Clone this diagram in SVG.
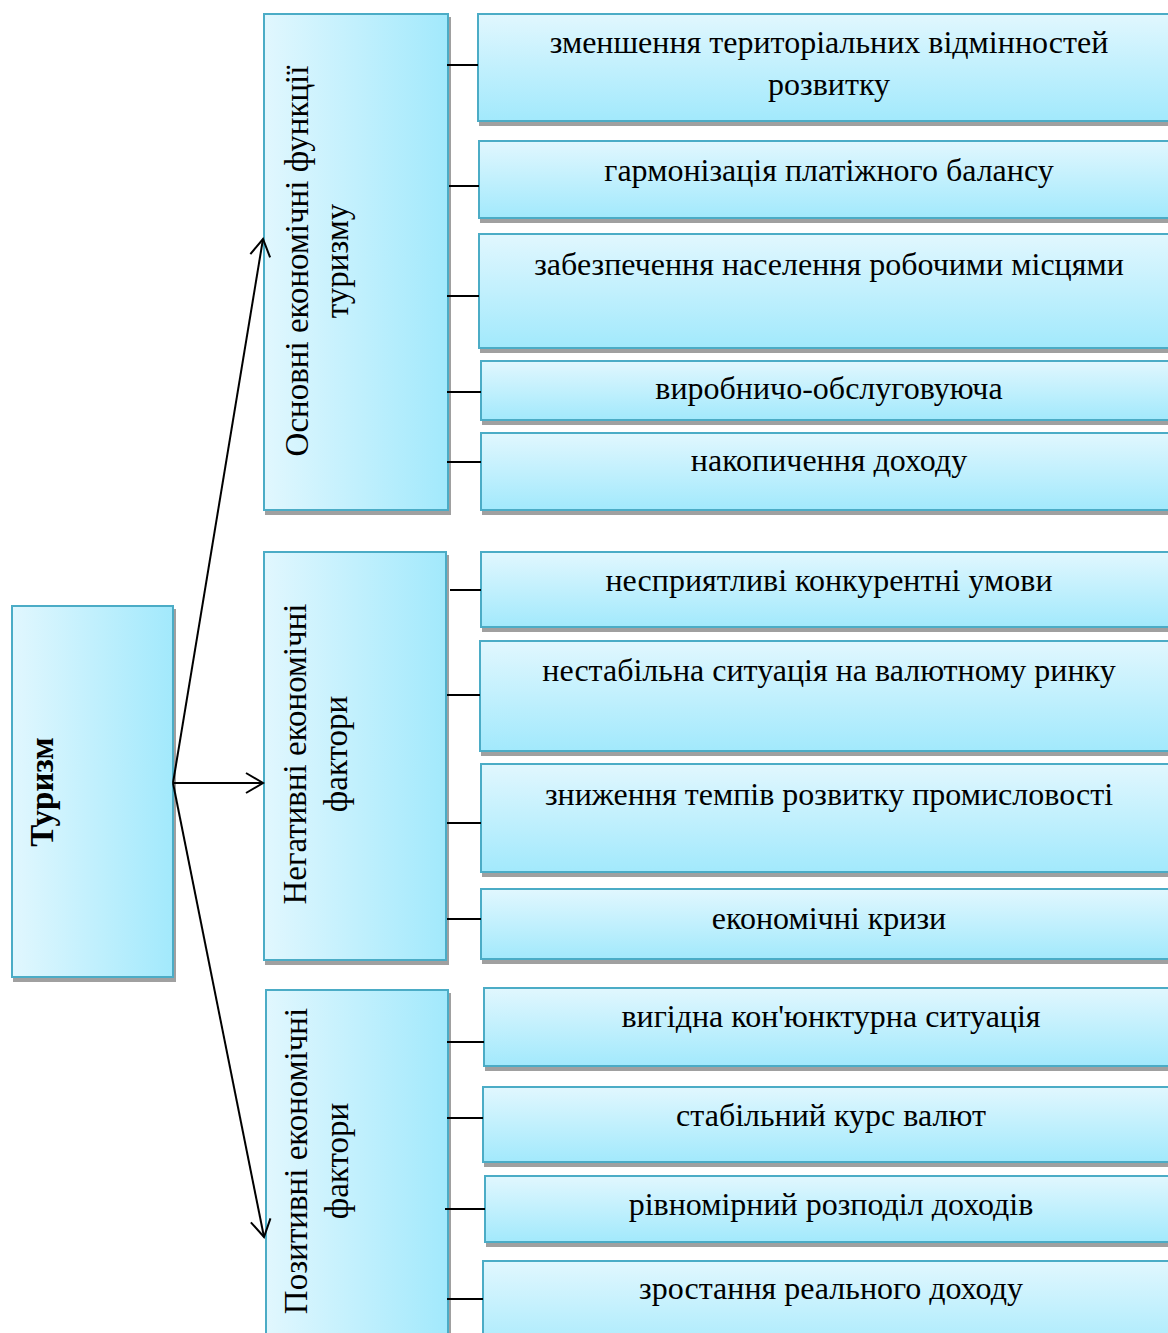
<svg xmlns="http://www.w3.org/2000/svg" width="1168" height="1333" viewBox="0 0 1168 1333">
  <defs>
    <linearGradient id="fillV" x1="0" y1="0" x2="0" y2="1">
      <stop offset="0" stop-color="#e1f7fe"/>
      <stop offset="1" stop-color="#a2e9fc"/>
    </linearGradient>
    <linearGradient id="fillH" x1="0" y1="0" x2="1" y2="0">
      <stop offset="0" stop-color="#e1f7fe"/>
      <stop offset="1" stop-color="#a2e9fc"/>
    </linearGradient>
    <filter id="shadow" x="-5%" y="-5%" width="115%" height="115%">
      <feFlood flood-color="#a0a0a0" result="c"/>
      <feComposite in="c" in2="SourceAlpha" operator="in" result="s"/>
      <feOffset in="s" dx="2" dy="4" result="o"/>
      <feMerge>
        <feMergeNode in="o"/>
        <feMergeNode in="SourceGraphic"/>
      </feMerge>
    </filter>
    <marker id="open" markerUnits="userSpaceOnUse" viewBox="-20 -12 22 24" refX="0" refY="0" markerWidth="22" markerHeight="24" orient="auto">
      <path d="M-17,-10 L0,0 L-17,10" fill="none" stroke="#000" stroke-width="2"/>
    </marker>
    <style>
      .box { stroke: #4bacc6; stroke-width: 2; filter: url(#shadow); }
      .item { fill: url(#fillV); }
      .group { fill: url(#fillH); }
      text { font-family: "Liberation Serif", "Times New Roman", serif; font-size: 32px; fill: #000; text-anchor: middle; }
      .vert { font-size: 33px; }
      .bold { font-weight: bold; }
      .link { stroke: #000; stroke-width: 2; fill: none; }
    </style>
  </defs>
  <rect width="1168" height="1333" fill="#fff"/>

  <!-- root node -->
  <g id="tourism">
    <rect class="box group" x="12" y="606" width="161" height="371"/>
    <text class="bold vert" transform="translate(53,792) rotate(-90)">Туризм</text>
  </g>

  <!-- group nodes -->
  <g id="main-functions">
    <rect class="box group" x="264" y="14" width="184" height="496"/>
    <text class="vert" transform="translate(308,261) rotate(-90)">Основні економічні функції</text>
    <text class="vert" transform="translate(348,261) rotate(-90)">туризму</text>
  </g>
  <g id="negative-factors">
    <rect class="box group" x="264" y="552" width="182" height="408"/>
    <text class="vert" transform="translate(306,754) rotate(-90)">Негативні економічні</text>
    <text class="vert" transform="translate(347,754) rotate(-90)">фактори</text>
  </g>
  <g id="positive-factors">
    <rect class="box group" x="266" y="990" width="182" height="360"/>
    <text class="vert" transform="translate(307,1161) rotate(-90)">Позитивні економічні</text>
    <text class="vert" transform="translate(348,1161) rotate(-90)">фактори</text>
  </g>

  <!-- item nodes -->
  <g id="item-1">
    <rect class="box item" x="478" y="14" width="720" height="107"/>
    <text x="829" y="53">зменшення територіальних відмінностей</text>
    <text x="829" y="95">розвитку</text>
  </g>
  <g id="item-2">
    <rect class="box item" x="479" y="141" width="720" height="77"/>
    <text x="829" y="181">гармонізація платіжного балансу</text>
  </g>
  <g id="item-3">
    <rect class="box item" x="479" y="234" width="720" height="114"/>
    <text x="829" y="275">забезпечення населення робочими місцями</text>
  </g>
  <g id="item-4">
    <rect class="box item" x="481" y="361" width="720" height="59"/>
    <text x="829" y="399">виробничо-обслуговуюча</text>
  </g>
  <g id="item-5">
    <rect class="box item" x="481" y="433" width="720" height="77"/>
    <text x="829" y="471">накопичення доходу</text>
  </g>
  <g id="item-6">
    <rect class="box item" x="481" y="552" width="720" height="75"/>
    <text x="829" y="591">несприятливі конкурентні умови</text>
  </g>
  <g id="item-7">
    <rect class="box item" x="480" y="641" width="720" height="110"/>
    <text x="829" y="681">нестабільна ситуація на валютному ринку</text>
  </g>
  <g id="item-8">
    <rect class="box item" x="481" y="764" width="720" height="108"/>
    <text x="829" y="805">зниження темпів розвитку промисловості</text>
  </g>
  <g id="item-9">
    <rect class="box item" x="481" y="889" width="720" height="70"/>
    <text x="829" y="929">економічні кризи</text>
  </g>
  <g id="item-10">
    <rect class="box item" x="484" y="988" width="720" height="78"/>
    <text x="831" y="1027">вигідна кон'юнктурна ситуація</text>
  </g>
  <g id="item-11">
    <rect class="box item" x="483" y="1087" width="720" height="75"/>
    <text x="831" y="1126">стабільний курс валют</text>
  </g>
  <g id="item-12">
    <rect class="box item" x="485" y="1176" width="720" height="66"/>
    <text x="831" y="1215">рівномірний розподіл доходів</text>
  </g>
  <g id="item-13">
    <rect class="box item" x="483" y="1261" width="720" height="100"/>
    <text x="831" y="1299">зростання реального доходу</text>
  </g>

  <!-- connectors -->
  <g id="connectors">
    <line class="link" x1="173" y1="783" x2="263" y2="239" marker-end="url(#open)"/>
    <line class="link" x1="173" y1="783" x2="263" y2="783" marker-end="url(#open)"/>
    <line class="link" x1="173" y1="783" x2="264" y2="1237" marker-end="url(#open)"/>
    <line class="link" x1="447" y1="65" x2="478" y2="65"/>
    <line class="link" x1="449" y1="186" x2="479" y2="186"/>
    <line class="link" x1="447" y1="296" x2="479" y2="296"/>
    <line class="link" x1="447" y1="392" x2="481" y2="392"/>
    <line class="link" x1="447" y1="462" x2="481" y2="462"/>
    <line class="link" x1="450" y1="590" x2="481" y2="590"/>
    <line class="link" x1="447" y1="695" x2="480" y2="695"/>
    <line class="link" x1="447" y1="823" x2="481" y2="823"/>
    <line class="link" x1="447" y1="919" x2="481" y2="919"/>
    <line class="link" x1="447" y1="1042" x2="484" y2="1042"/>
    <line class="link" x1="447" y1="1118" x2="483" y2="1118"/>
    <line class="link" x1="445" y1="1209" x2="485" y2="1209"/>
    <line class="link" x1="447" y1="1299" x2="483" y2="1299"/>
  </g>
</svg>
